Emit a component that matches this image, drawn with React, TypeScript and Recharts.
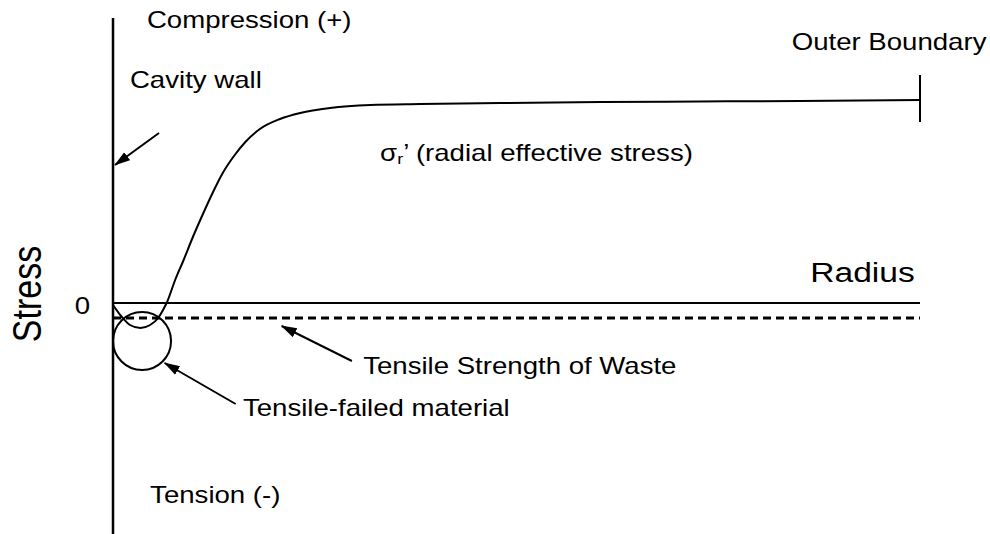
import { ComposedChart, Line, ReferenceDot, ReferenceLine, XAxis, YAxis } from "recharts";

// radial effective stress profile (schematic units, radius 0..100)
const radius = [0, 1.1, 2.1, 3.4, 4.6, 5.6, 6.2, 6.7, 7.7, 8.7, 9.9, 11.2, 12.4, 13.6, 14.9, 16.4, 18.2, 20.7, 23.2, 26.9, 31.9, 38, 48, 60.4, 72.7, 85.1, 100];
const stress = [-2, -14, -22, -25, -22, -15, -7, 1, 23, 42, 66, 90, 111, 130, 146, 161, 174, 184, 190, 195, 198, 199, 200, 201, 201.5, 202, 203];

const tensileStrength = -15;
const failedZone = { r: 3.6, s: -38 };
const outerBoundary = { r: 100, from: 181, to: 228 };

const arrows = [
  { id: "wall", from: { r: 5.7, s: 170 }, to: { r: 0.25, s: 138 } },
  { id: "strength", from: { r: 29.6, s: -58 }, to: { r: 20.9, s: -23 } },
  { id: "failed", from: { r: 15.2, s: -101 }, to: { r: 6.4, s: -60 } },
];

const notes = [
  { text: "Compression (+)", r: 4.2, s: 283, size: 23 },
  { text: "Cavity wall", r: 2.1, s: 223, size: 23 },
  { text: "Outer Boundary", r: 84.1, s: 261, size: 23 },
  { text: "Radius", r: 86.4, s: 31, size: 28 },
  { text: "Tensile Strength of Waste", r: 31, s: -63, size: 23 },
  { text: "Tensile-failed material", r: 16.1, s: -105, size: 23 },
  { text: "Tension (-)", r: 4.6, s: -192, size: 23 },
];
const sigmaNote = { r: 33.1, s: 150, size: 23 };

const curve = radius.map((r, i) => ({ r, s: stress[i] }));
const font = "'Liberation Sans', Arial, Helvetica, sans-serif";
const stretch = 1.2;

function noteLabel(text: string, size: number) {
  return (props: any) => {
    const { x, y } = props.viewBox;
    return (
      <text
        transform={`translate(${x},${y}) scale(${stretch},1)`}
        fontSize={size}
        fontFamily={font}
        fill="#000"
        dominantBaseline="central"
      >
        {text}
      </text>
    );
  };
}

function sigmaLabel(props: any) {
  const { x, y } = props.viewBox;
  return (
    <text
      transform={`translate(${x},${y}) scale(${stretch},1)`}
      fontSize={sigmaNote.size}
      fontFamily={font}
      fill="#000"
      dominantBaseline="central"
    >
      σ
      <tspan fontSize={15} dy={6}>r</tspan>
      <tspan dy={-6}>’ (radial effective stress)</tspan>
    </text>
  );
}

function ZeroTick(props: any) {
  const { x, y, payload } = props;
  return (
    <text
      transform={`translate(${x},${y + 3}) scale(${stretch},1)`}
      fontSize={23}
      fontFamily={font}
      textAnchor="end"
      dominantBaseline="central"
      fill="#000"
    >
      {payload.value}
    </text>
  );
}

function StressLabel(props: any) {
  const { x, y, height } = props.viewBox;
  const cx = x + 14;
  const cy = y + height / 2 + 18;
  return (
    <text
      transform={`translate(${cx},${cy}) scale(${stretch},1) rotate(-90)`}
      fontSize={34}
      fontFamily={font}
      textAnchor="middle"
      dominantBaseline="central"
      fill="#000"
    >
      Stress
    </text>
  );
}

export default function App() {
  return (
    <div style={{ position: "absolute", left: 0, top: 0, width: 990, height: 534, background: "#fff" }}>
      <ComposedChart width={990} height={534} margin={{ top: 18, right: 70, bottom: 0, left: 13 }}>
        <defs>
          <marker
            id="arrowHead"
            markerUnits="userSpaceOnUse"
            markerWidth={16}
            markerHeight={12}
            refX={15}
            refY={6}
            orient="auto"
          >
            <path d="M0,1 L16,6 L0,11 z" fill="#000" />
          </marker>
        </defs>
        <XAxis type="number" dataKey="r" domain={[0, 100]} hide allowDataOverflow />
        <YAxis
          type="number"
          dataKey="s"
          domain={[-231, 285]}
          allowDataOverflow
          width={100}
          ticks={[0]}
          tickSize={0}
          tickMargin={23}
          tickLine={false}
          tick={<ZeroTick />}
          axisLine={{ stroke: "#000", strokeWidth: 2.5 }}
          label={StressLabel}
        />
        <ReferenceLine y={0} stroke="#000" strokeWidth={2} />
        <ReferenceLine y={tensileStrength} stroke="#000" strokeWidth={3} strokeDasharray="8 5" />
        <ReferenceLine
          segment={[
            { x: outerBoundary.r, y: outerBoundary.from },
            { x: outerBoundary.r, y: outerBoundary.to },
          ]}
          stroke="#000"
          strokeWidth={2}
        />
        <ReferenceDot
          x={failedZone.r}
          y={failedZone.s}
          r={29}
          fill="none"
          stroke="#000"
          strokeWidth={2}
        />
        <Line
          data={curve}
          dataKey="s"
          type="monotone"
          stroke="#000"
          strokeWidth={2}
          dot={false}
          isAnimationActive={false}
        />
        {arrows.map((a) => (
          <Line
            key={a.id}
            data={[a.from, a.to]}
            dataKey="s"
            type="linear"
            stroke="#000"
            strokeWidth={2}
            dot={false}
            markerEnd="url(#arrowHead)"
            isAnimationActive={false}
          />
        ))}
        {notes.map((n) => (
          <ReferenceDot
            key={n.text}
            x={n.r}
            y={n.s}
            r={0}
            fill="none"
            stroke="none"
            label={noteLabel(n.text, n.size)}
          />
        ))}
        <ReferenceDot x={sigmaNote.r} y={sigmaNote.s} r={0} fill="none" stroke="none" label={sigmaLabel} />
      </ComposedChart>
    </div>
  );
}
